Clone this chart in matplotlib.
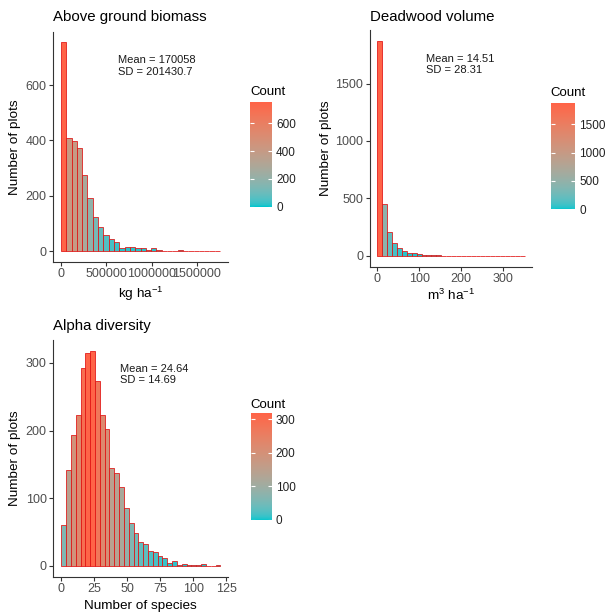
import numpy as np
import matplotlib
matplotlib.use("Agg")
import matplotlib.pyplot as plt
from matplotlib.colors import ListedColormap, Normalize, to_rgb
from matplotlib.cm import ScalarMappable

plt.rcParams["font.family"] = ["Liberation Sans", "DejaVu Sans"]
plt.rcParams["mathtext.fontset"] = "custom"
plt.rcParams["mathtext.rm"] = "Liberation Sans"
plt.rcParams["mathtext.default"] = "regular"

# histogram counts
BIOMASS_COUNTS = [755, 408, 399, 372, 276, 192, 124, 86, 58, 44,
                  32, 12, 16, 16, 12, 10, 4, 12, 4, 2,
                  1, 1, 5, 0, 0, 0, 0, 0, 0, 1]
BIOMASS_BINWIDTH = 58500
BIOMASS_MEAN, BIOMASS_SD = "170058", "201430.7"

DEADWOOD_COUNTS = [1872, 450, 205, 112, 70, 42, 24, 22, 14, 11,
                   8, 4, 10, 1, 2, 0, 1, 0, 0, 0,
                   0, 0, 0, 0, 0, 0, 0, 0, 0, 1]
DEADWOOD_BINWIDTH = 11.73
DEADWOOD_MEAN, DEADWOOD_SD = "14.51", "28.31"

ALPHA_COUNTS = [61, 142, 194, 223, 293, 315, 318, 273, 223, 203,
                145, 138, 116, 86, 63, 48, 36, 32, 22, 21,
                14, 12, 5, 8, 2, 3, 2, 1, 1, 3, 0, 0, 1]
ALPHA_BINWIDTH = 3.65
ALPHA_MEAN, ALPHA_SD = "24.64", "14.69"

LOW, HIGH = "#00C5CD", "#FF6347"
EDGE = "#E01010"
W, H = 606, 614


def srgb_to_lab(rgb):
    c = np.asarray(rgb, float)
    c = np.where(c <= 0.04045, c / 12.92, ((c + 0.055) / 1.055) ** 2.4)
    m = np.array([[0.4124, 0.3576, 0.1805], [0.2126, 0.7152, 0.0722], [0.0193, 0.1192, 0.9505]])
    xyz = m @ c / np.array([0.95047, 1.0, 1.08883])
    f = np.where(xyz > 0.008856, np.cbrt(xyz), 7.787 * xyz + 16 / 116)
    return np.array([116 * f[1] - 16, 500 * (f[0] - f[1]), 200 * (f[1] - f[2])])


def lab_to_srgb(lab):
    fy = (lab[0] + 16) / 116
    f = np.array([fy + lab[1] / 500, fy, fy - lab[2] / 200])
    xyz = np.where(f ** 3 > 0.008856, f ** 3, (f - 16 / 116) / 7.787) * np.array([0.95047, 1.0, 1.08883])
    m = np.array([[3.2406, -1.5372, -0.4986], [-0.9689, 1.8758, 0.0415], [0.0557, -0.2040, 1.0570]])
    c = m @ xyz
    c = np.where(c <= 0.0031308, 12.92 * c, 1.055 * np.clip(c, 0, None) ** (1 / 2.4) - 0.055)
    return np.clip(c, 0, 1)


def lab_gradient(low, high, n=256):
    a, b = srgb_to_lab(to_rgb(low)), srgb_to_lab(to_rgb(high))
    return ListedColormap([lab_to_srgb(a + (b - a) * t) for t in np.linspace(0, 1, n)])


CMAP = lab_gradient(LOW, HIGH)


def box(x0, y0, x1, y1):
    return [x0 / W, 1 - y1 / H, (x1 - x0) / W, (y1 - y0) / H]


def draw_panel(fig, counts, binwidth, title, xlabel, mean, sd, xticks, yticks, cticks, lay):
    counts = np.asarray(counts)
    left = np.arange(len(counts)) * binwidth
    norm = Normalize(0, counts.max())

    ax = fig.add_axes(box(*lay["ax"]))
    ax.bar(left, counts, width=binwidth, align="edge", color=CMAP(norm(counts)),
           edgecolor=EDGE, linewidth=0.55)
    span = len(counts) * binwidth
    ax.set_xlim(-0.05 * span, 1.05 * span)
    ax.set_ylim(-0.05 * counts.max(), 1.05 * counts.max())
    ax.set_xticks(xticks)
    ax.set_yticks(yticks)
    ax.ticklabel_format(style="plain", axis="both", useOffset=False)
    for s in ("top", "right"):
        ax.spines[s].set_visible(False)
    for s in ("left", "bottom"):
        ax.spines[s].set_color("#333333")
        ax.spines[s].set_linewidth(0.8)
    ax.tick_params(labelsize=9, labelcolor="#4D4D4D", color="#333333", length=2.75, width=0.8, pad=2)

    x0, y0, x1, y1 = lay["ax"]
    fig.text(x0 / W, 1 - lay["title_y"] / H, title, fontsize=10.8, va="baseline", ha="left")
    fig.text(lay["ylab_x"] / W, 1 - (y0 + y1) / 2 / H, "Number of plots", rotation=90,
             fontsize=9.7, ha="center", va="center")
    fig.text((x0 + x1) / 2 / W, 1 - lay["xlab_y"] / H, xlabel, fontsize=9.7, ha="center", va="baseline")
    tx, ty = lay["text"]
    fig.text(tx / W, 1 - ty / H, f"Mean = {mean}\nSD = {sd}", fontsize=8, ha="left", va="center",
             linespacing=1.2, color="#1A1A1A")

    cax = fig.add_axes(box(*lay["cbar"]))
    cb = fig.colorbar(ScalarMappable(norm=norm, cmap=CMAP), cax=cax, ticks=cticks)
    cb.outline.set_visible(False)
    cax.tick_params(left=True, right=True, labelleft=False, labelright=True, direction="in",
                    length=3.2, width=0.8, color="white", labelsize=8.5, labelcolor="#222222", pad=3)
    fig.text(lay["cbar"][0] / W, 1 - lay["count_y"] / H, "Count", fontsize=9.5, ha="left", va="center")
    return ax


fig = plt.figure(figsize=(W / 100, H / 100), dpi=100)

draw_panel(fig, BIOMASS_COUNTS, BIOMASS_BINWIDTH, "Above ground biomass", r"kg ha$^{-1}$",
           BIOMASS_MEAN, BIOMASS_SD, [0, 500000, 1000000, 1500000], [0, 200, 400, 600], [0, 200, 400, 600],
           {"ax": (53, 31.7, 228, 261.7), "cbar": (250, 101.7, 272, 206.7), "title_y": 21,
            "ylab_x": 15, "xlab_y": 298, "text": (118.3, 66), "count_y": 92})

draw_panel(fig, DEADWOOD_COUNTS, DEADWOOD_BINWIDTH, "Deadwood volume", r"m$^{3}$ ha$^{-1}$",
           DEADWOOD_MEAN, DEADWOOD_SD, [0, 100, 200, 300], [0, 500, 1000, 1500], [0, 500, 1000, 1500],
           {"ax": (370, 30, 532, 266.7), "cbar": (550.7, 103.3, 575, 209.3), "title_y": 21,
            "ylab_x": 326, "xlab_y": 300, "text": (425.7, 64.5), "count_y": 93})

draw_panel(fig, ALPHA_COUNTS, ALPHA_BINWIDTH, "Alpha diversity", "Number of species",
           ALPHA_MEAN, ALPHA_SD, [0, 25, 50, 75, 100, 125], [0, 100, 200, 300], [0, 100, 200, 300],
           {"ax": (53.3, 340, 228.3, 576.7), "cbar": (250.7, 413.3, 271.7, 520), "title_y": 330,
            "ylab_x": 15, "xlab_y": 609, "text": (120, 374.3), "count_y": 405})

fig.savefig("out.png", dpi=100)
